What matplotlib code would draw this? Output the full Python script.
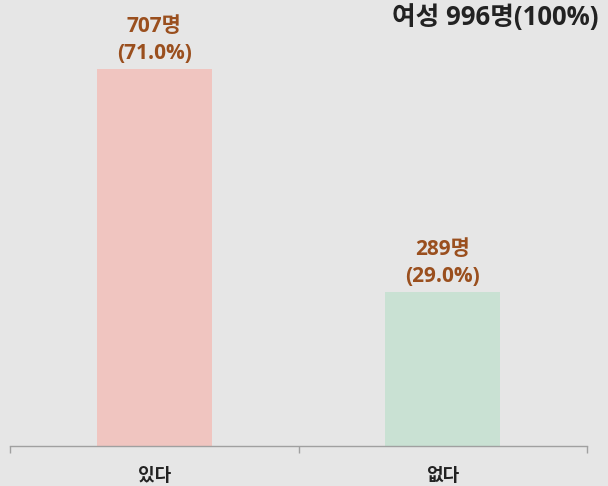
import matplotlib
matplotlib.use("Agg")
import matplotlib.pyplot as plt

plt.rcParams['font.family'] = ['Open Sans', 'Noto Sans CJK KR', 'DejaVu Sans']

categories = ["있다", "없다"]
counts = [707, 289]
percents = [71.0, 29.0]
colors = ["#f0c5c0", "#c9e1d3"]
title_text = "여성 996명(100%)"

fig = plt.figure(figsize=(6.08, 4.86), dpi=100)
bg = "#e6e6e6"
fig.patch.set_facecolor(bg)
ax = fig.add_axes([10/608, 40/486, 577/608, 446/486])
ax.set_facecolor(bg)

x = list(range(len(categories)))
bars = ax.bar(x, counts, width=0.40, color=colors)
ax.set_xlim(-0.5, len(categories) - 0.5)
ax.set_ylim(0, 836)

for xi, c, p in zip(x, counts, percents):
    ax.annotate(f"{c}명", (xi, c), xytext=(0, 42 * 0.72), textcoords="offset points",
                ha="center", va="center", fontsize=15, fontweight="bold", color="#9a4f1e")
    ax.annotate(f"({p:.1f}%)", (xi, c), xytext=(0, 15 * 0.72), textcoords="offset points",
                ha="center", va="center", fontsize=15, fontweight="bold", color="#9a4f1e")

for s in ["top", "left", "right"]:
    ax.spines[s].set_visible(False)
ax.spines["bottom"].set_color("#a0a0a0")
ax.spines["bottom"].set_linewidth(1.0)
ax.set_yticks([])
ax.set_xticks([-0.5, 0.5, 1.5], minor=False)
ax.set_xticklabels([])
ax.tick_params(axis="x", length=5, color="#a0a0a0", width=1.0)
ax.set_xticks(x, minor=True)
ax.set_xticklabels(categories, minor=True, fontsize=13, fontweight="bold", color="#222222")
ax.tick_params(axis="x", which="minor", length=0, pad=15)

fig.text(598/608, 1 - 18/486, title_text, ha="right", va="center",
         fontsize=18.5, fontweight="bold", color="#222222")

fig.savefig("out.png", dpi=100, facecolor=bg)
